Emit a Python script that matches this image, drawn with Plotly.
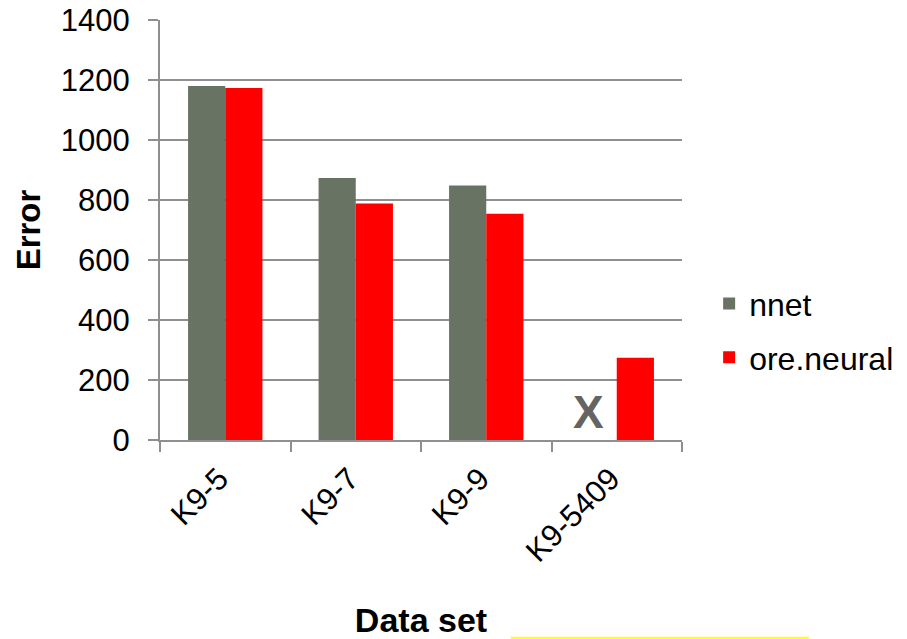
import plotly.graph_objects as go

categories = ["K9-5", "K9-7", "K9-9", "K9-5409"]
nnet = [1181, 874, 849, None]
ore_neural = [1174, 789, 755, 274]
y_ticks = [0, 200, 400, 600, 800, 1000, 1200, 1400]
missing_mark = "X"

FONT = "Liberation Sans, Arial, sans-serif"
GRID = "#8f8f8f"

fig = go.Figure()
fig.add_trace(go.Bar(name="nnet", x=categories, y=nnet, marker_color="#687364",
                     marker_line_width=0, legendgroup="a"))
fig.add_trace(go.Bar(name="ore.neural", x=categories, y=ore_neural, marker_color="#FF0000",
                     marker_line_width=0, legendgroup="b"))

fig.add_annotation(x=categories[3], y=95, text="<b>%s</b>" % missing_mark, showarrow=False,
                   xshift=-28, yanchor="middle",
                   font=dict(family=FONT, size=46, color="#646464"))

fig.add_shape(type="line", xref="paper", yref="paper", x0=0.672, x1=1.243, y0=-0.471, y1=-0.471,
              line=dict(color="#FFFF00", width=2))

fig.update_layout(
    width=907, height=639,
    margin=dict(l=160, r=225, t=20, b=199, autoexpand=False),
    plot_bgcolor="white", paper_bgcolor="white",
    barmode="group", bargap=0.43, bargroupgap=0,
    font=dict(family=FONT, size=31, color="black"),
    legend=dict(x=1.052, y=0.26, xanchor="left", yanchor="middle",
                font=dict(family=FONT, size=32, color="black"),
                bgcolor="rgba(0,0,0,0)", tracegroupgap=9, itemwidth=30),
    showlegend=True,
)
fig.update_yaxes(
    automargin=False,
    range=[0, 1401], tickvals=y_ticks, ticktext=[str(v) for v in y_ticks],
    showgrid=True, gridcolor=GRID, gridwidth=1.5,
    showline=True, linecolor=GRID, linewidth=2,
    ticks="outside", ticklen=10, tickcolor=GRID, tickwidth=2,
    tickfont=dict(family=FONT, size=31, color="black"),
    ticklabelstandoff=12, ticklabeloverflow="allow",
    zeroline=False,
    title=dict(text="<b>Error</b>", font=dict(family=FONT, size=33, color="black"), standoff=10),
)
fig.update_xaxes(
    automargin=False,
    showline=True, linecolor=GRID, linewidth=2,
    ticks="outside", ticklen=10, tickcolor=GRID, tickwidth=2, tickson="boundaries",
    tickangle=-45, tickfont=dict(family=FONT, size=31, color="black"),
    ticksuffix="\u00a0", ticklabeloverflow="allow",
    title=dict(text="<b>Data set</b>", font=dict(family=FONT, size=34, color="black"), standoff=41),
)

fig.write_html("out.html", config={"displayModeBar": False},
               post_script="document.body.style.margin='0';")
